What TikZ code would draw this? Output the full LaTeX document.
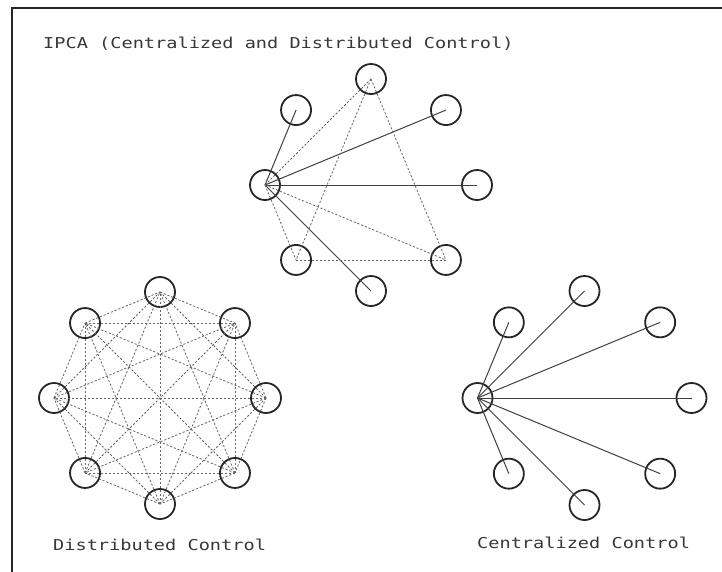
\documentclass[tikz,border=0pt]{standalone}
\usepackage{fontspec}
\newfontfamily\plotfont{DejaVu Sans Mono}
\usetikzlibrary{calc}
\begin{document}
\begin{tikzpicture}[x=1pt,y=-1pt,
  unit/.style={circle,draw=black!85,line width=1.8pt,minimum size=30pt,inner sep=0pt},
  solidlink/.style={draw=black!75,line width=1pt},
  dashlink/.style={draw=black!60,line width=0.8pt,dash pattern=on 2.2pt off 1.8pt},
  lbl/.style={anchor=base west,inner sep=0pt,text=black!78,font=\plotfont\fontsize{15}{15}\selectfont}]
\useasboundingbox (0,0) rectangle (722,571);
\fill[white] (0,0) rectangle (722,571);
\draw[line width=2.5pt,black!85] (12,580) -- (12,8) -- (730,8);

% titles
\node[lbl] (title) at (43,48) {\scalebox{1.24}[1]{IPCA (Centralized and Distributed Control)}};
\node[lbl] (dlabel) at (53,550) {\scalebox{1.24}[1]{Distributed Control}};
\node[lbl] (clabel) at (477,548.5) {\scalebox{1.24}[1]{Centralized Control}};

% IPCA cluster
\foreach \i in {0,...,7} \node[unit] (p\i) at ($(371,185)+(\i*45:106)$) {};
\foreach \t in {5,7,0,2} \draw[solidlink] (p4.center) -- (p\t.center);
\draw[dashlink] (p4.center) -- (p6.center);
\draw[dashlink] (p4.center) -- (p3.center);
\draw[dashlink] (p4.center) -- (p1.center);
\draw[dashlink] (p6.center) -- (p3.center);
\draw[dashlink] (p6.center) -- (p1.center);
\draw[dashlink] (p3.center) -- (p1.center);

% Distributed cluster
\foreach \i in {0,...,7} \node[unit] (d\i) at ($(160,398)+(\i*45:106)$) {};
\foreach \i in {0,...,6} {
  \pgfmathtruncatemacro\nxt{\i+1}
  \foreach \j in {\nxt,...,7} \draw[dashlink] (d\i.center) -- (d\j.center);
}

% Centralized cluster
\foreach \i in {0,...,7} \node[unit] (c\i) at ($(584.5,398)+(\i*45:107)$) {};
\foreach \t in {0,1,2,3,5,6,7} \draw[solidlink] (c4.center) -- (c\t.center);
\end{tikzpicture}
\end{document}
